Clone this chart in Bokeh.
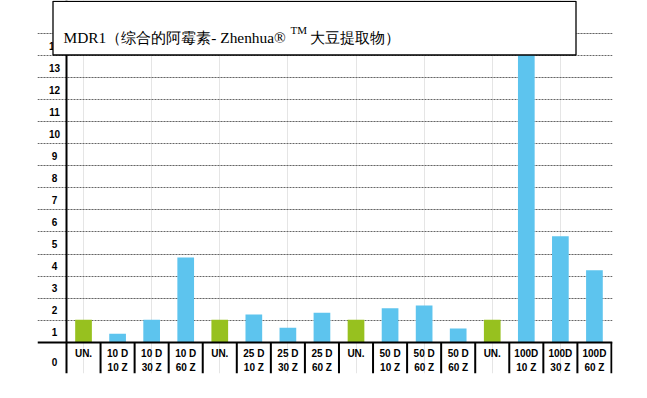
from bokeh.plotting import figure
from bokeh.models import Range1d
from bokeh.core.properties import value
from bokeh.embed import file_html
from bokeh.resources import INLINE

# ---- data ----
categories = ["UN.", "10 D\n10 Z", "10 D\n30 Z", "10 D\n60 Z",
              "UN.", "25 D\n10 Z", "25 D\n30 Z", "25 D\n60 Z",
              "UN.", "50 D\n10 Z", "50 D\n60 Z", "50 D\n60 Z",
              "UN.", "100D\n10 Z", "100D\n30 Z", "100D\n60 Z"]
values = [1.02, 0.38, 1.02, 3.84,
          1.02, 1.26, 0.65, 1.33,
          1.02, 1.54, 1.66, 0.62,
          1.02, 14.3, 4.81, 3.26]
y_ticks = list(range(0, 15))
y_tick_labels = [str(v) for v in y_ticks]
title_main = "MDR1（综合的阿霉素- Zhenhua®"
title_sup = "TM"
title_tail = "大豆提取物）"

GREEN = "#97c11f"
BLUE = "#5dc4ee"

# ---- layout (pixel geometry of the frame) ----
ORIGIN = 0
W, H = 640, 385
ML, MR, MT, MB = 37, 28, 0, 12
frame_left_px = ORIGIN + ML
frame_right_px = ORIGIN + W - MR
frame_top_px = ORIGIN + MT
frame_bottom_px = ORIGIN + H - MB
cat_left_px, cat_w_px = 66.0, 34.06
zero_px, unit_px = 341.7, 22.05

x_start = -0.5 - (cat_left_px - frame_left_px) / cat_w_px
x_end = x_start + (frame_right_px - frame_left_px) / cat_w_px
y_start = -(frame_bottom_px - zero_px) / unit_px
y_end = (zero_px - frame_top_px) / unit_px


def px_x(px):
    return x_start + (px - frame_left_px) / cat_w_px


def px_y(py):
    return (zero_px - py) / unit_px


p = figure(width=W, height=H, output_backend="svg", toolbar_location=None,
           x_range=Range1d(x_start, x_end), y_range=Range1d(y_start, y_end),
           x_axis_location=None, y_axis_location=None,
           min_border_left=ML, min_border_right=MR,
           min_border_top=MT, min_border_bottom=MB, title=None)
p.outline_line_color = None
p.background_fill_color = "white"
p.border_fill_color = "white"

n = len(categories)
xs = list(range(n))

# gridlines
p.hspan(y=y_ticks[1:], line_color="#666666", line_width=1, line_dash="2 1")

# bars
colors = [GREEN if c.startswith("UN") else BLUE for c in categories]
p.vbar(x=xs, top=values, width=0.49, bottom=0, fill_color=colors, line_color=None)

# axis lines
p.hspan(y=[0], line_color="black", line_width=2)
p.vspan(x=[-0.5], line_color="black", line_width=2)
seps = [i + 0.5 for i in xs]
p.segment(x0=seps, y0=[0] * n, x1=seps, y1=[y_start] * n,
          line_color="black", line_width=2)

# x labels (two lines)
line1 = [c.split("\n")[0] for c in categories]
line2 = [c.split("\n")[1] if "\n" in c else "" for c in categories]
common = dict(text_font=value("Liberation Sans"), text_font_style="bold",
              text_font_size="10px", text_align="center",
              text_baseline="alphabetic", text_color="black")
p.text(x=xs, y=[0] * n, text=line1, y_offset=11.6, **common)
p.text(x=xs, y=[0] * n, text=line2, y_offset=25.0, **common)

# y labels
ylab_x = px_x(54)
y_offs = [20.0 if v == 0 else 12.0 for v in y_ticks]
p.text(x=[ylab_x] * len(y_ticks), y=y_ticks, text=y_tick_labels,
       y_offset=y_offs, **common)

# title box
p.quad(left=[px_x(52.5)], right=[px_x(575.5)], bottom=[px_y(54.5)], top=[px_y(0.8)],
       fill_color="white", line_color="black", line_width=1.3)
p.text(x=[px_x(63)], y=[px_y(37)], text=[title_main],
       text_font=value("Liberation Serif"), text_font_size="15.4px",
       text_baseline="alphabetic", text_color="black")
p.text(x=[px_x(290)], y=[px_y(29.5)], text=[title_sup],
       text_font=value("Liberation Serif"), text_font_size="11px",
       text_baseline="alphabetic", text_color="black")
p.text(x=[px_x(309)], y=[px_y(37)], text=[title_tail],
       text_font=value("Liberation Serif"), text_font_size="15px",
       text_baseline="alphabetic", text_color="black")

open("out.html", "w").write(file_html(p, INLINE))
